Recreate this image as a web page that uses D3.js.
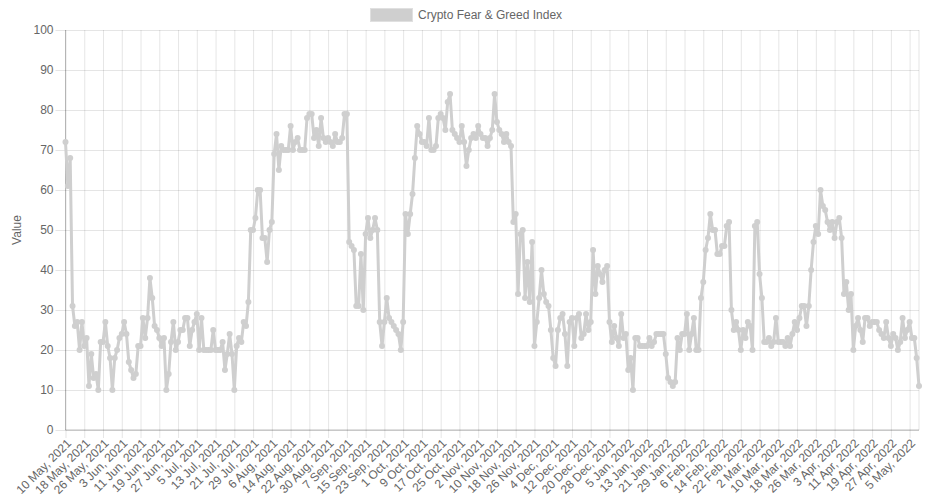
<!DOCTYPE html>
<meta charset="utf-8">

<!-- Load d3.js -->
<script src="https://d3js.org/d3.v7.min.js"></script>

<style>
    body { margin: 0; background: #fff; }
    text { font-family: Arial, "Liberation Sans", Helvetica, sans-serif; }
</style>

<!-- Create a div where the graph will take place -->
<div id="my_dataviz"></div>

<script>

    // ---------------------------//
    //       DATA                 //
    // ---------------------------//

    var seriesName = "Crypto Fear & Greed Index";
    var yTitle = "Value";

    // one label every 8 days (daily data from 10 May 2021)
    var tickLabels = ["10 May, 2021", "18 May, 2021", "26 May, 2021", "3 Jun, 2021", "11 Jun, 2021",
        "19 Jun, 2021", "27 Jun, 2021", "5 Jul, 2021", "13 Jul, 2021", "21 Jul, 2021", "29 Jul, 2021",
        "6 Aug, 2021", "14 Aug, 2021", "22 Aug, 2021", "30 Aug, 2021", "7 Sep, 2021", "15 Sep, 2021",
        "23 Sep, 2021", "1 Oct, 2021", "9 Oct, 2021", "17 Oct, 2021", "25 Oct, 2021", "2 Nov, 2021",
        "10 Nov, 2021", "18 Nov, 2021", "26 Nov, 2021", "4 Dec, 2021", "12 Dec, 2021", "20 Dec, 2021",
        "28 Dec, 2021", "5 Jan, 2022", "13 Jan, 2022", "21 Jan, 2022", "29 Jan, 2022", "6 Feb, 2022",
        "14 Feb, 2022", "22 Feb, 2022", "2 Mar, 2022", "10 Mar, 2022", "18 Mar, 2022", "26 Mar, 2022",
        "3 Apr, 2022", "11 Apr, 2022", "19 Apr, 2022", "27 Apr, 2022", "5 May, 2022"];

    var yTicks = [0, 10, 20, 30, 40, 50, 60, 70, 80, 90, 100];

    // daily index values, 10 May 2021 -> 9 May 2022
    var fearGreed = [
        72, 61, 68, 31, 26, 27, 20, 27, 21, 23, 11, 19, 13, 14, 10, 22, 22, 27, 21, 18,
        10, 18, 20, 23, 24, 27, 24, 17, 15, 13, 14, 21, 21, 28, 23, 28, 38, 33, 26, 25,
        23, 21, 23, 10, 14, 22, 27, 20, 22, 25, 25, 28, 28, 21, 25, 27, 29, 20, 28, 20,
        20, 20, 20, 25, 20, 20, 20, 22, 15, 19, 24, 19, 10, 21, 23, 22, 27, 26, 32, 50,
        50, 53, 60, 60, 48, 48, 42, 50, 52, 69, 74, 65, 71, 70, 70, 70,
        76, 70, 72, 73, 70, 70, 70, 78, 79, 79, 73, 75, 71, 78, 73, 72, 73, 72, 71, 74,
        72, 72, 73, 79, 79,
        47, 46, 45, 31, 31, 44, 30, 49, 53, 48, 50, 53, 50, 27, 21, 27, 33, 28, 27, 26,
        25, 24, 20, 27, 54, 49, 54, 59, 68, 76, 74, 72, 72, 71, 78, 70, 70, 71, 78,
        79, 78, 75, 82, 84,
        75, 74, 73, 72, 76, 72, 66,
        70, 73, 74, 73, 76, 74, 73, 73, 71, 73, 75, 84,
        77, 75, 74, 72, 74, 72, 71,
        52, 54, 34, 49, 50, 33, 42, 32, 47, 21, 27, 33, 40, 34, 32, 31, 25, 18, 16,
        25, 28, 29, 24, 16, 27, 28, 21, 28,
        29, 23, 24, 29, 25, 27, 45,
        34, 41, 39, 37, 40, 41, 27, 22, 26, 23, 21, 29, 23, 24, 15, 18, 10,
        23, 23, 21, 21, 21, 21, 23, 21, 22, 24, 24, 24, 24, 19, 13, 12, 11, 12, 23, 20,
        24, 24, 29, 20, 24, 28, 20, 20, 33, 37, 45, 48, 54,
        50, 50, 44, 44, 46, 46, 51, 52,
        30, 25, 27, 25, 20, 25, 23, 27, 26, 20, 51, 52,
        39, 33, 22, 22, 23, 21, 22, 28, 22, 22, 22, 21, 23, 21, 24, 27, 25, 28, 31, 31,
        26, 31, 40, 47, 51, 49, 60,
        56, 55, 52, 50, 52, 48, 52, 53, 48, 34, 37, 30, 34, 20,
        26, 28, 25, 22, 28, 28, 26, 27, 27, 27, 25, 24, 23, 27, 23, 21, 24, 23, 20, 22,
        28, 23, 25, 27, 23, 23, 18, 11
    ];

    var lineColor = "#cfcfcf";

    // set the dimensions and margins of the graph
    var margin = { top: 30, right: 14, bottom: 74, left: 65.5 },
        width = 933 - margin.left - margin.right,
        height = 504 - margin.top - margin.bottom;

    var root = d3.select("#my_dataviz")
        .append("svg")
        .attr("width", 933)
        .attr("height", 504);

    var svg = root.append("g")
        .attr("transform", "translate(" + margin.left + "," + margin.top + ")");

    // ---------------------------//
    //       AXIS  AND SCALE      //
    // ---------------------------//

    var x = d3.scaleLinear()
        .domain([0, fearGreed.length - 1])
        .range([0, width]);

    var y = d3.scaleLinear()
        .domain([0, 100])
        .range([height, 0]);

    var xTickValues = d3.range(0, fearGreed.length, 8);

    // horizontal grid
    svg.append("g")
        .attr("class", "ygrid")
        .call(d3.axisLeft(y).tickValues(yTicks).tickSize(-width).tickFormat(""))
        .call(function (g) { g.select(".domain").remove(); })
        .selectAll("line")
        .attr("stroke", "rgba(0,0,0,0.1)");

    // vertical grid
    svg.append("g")
        .attr("class", "xgrid")
        .call(d3.axisTop(x).tickValues(xTickValues).tickSize(-height).tickFormat(""))
        .call(function (g) { g.select(".domain").remove(); })
        .selectAll("line")
        .attr("stroke", "rgba(0,0,0,0.1)");

    // right border line
    svg.append("line")
        .attr("x1", width).attr("x2", width)
        .attr("y1", 0).attr("y2", height)
        .attr("stroke", "rgba(0,0,0,0.1)");

    // Y axis with labels
    var yAxis = svg.append("g")
        .call(d3.axisLeft(y).tickValues(yTicks).tickSize(10).tickPadding(2));
    yAxis.select(".domain").remove();
    yAxis.selectAll("line").attr("stroke", "rgba(0,0,0,0.1)");
    yAxis.selectAll("text")
        .style("font-size", "12px")
        .attr("fill", "#666");

    // X axis with rotated labels
    var xAxis = svg.append("g")
        .attr("transform", "translate(0," + height + ")")
        .style("opacity", 0.999)
        .call(d3.axisBottom(x)
            .tickValues(xTickValues)
            .tickSize(8)
            .tickFormat(function (d, i) { return tickLabels[i]; }));
    xAxis.select(".domain").remove();
    xAxis.selectAll("line").attr("stroke", "rgba(0,0,0,0.1)");
    xAxis.selectAll("text")
        .attr("x", 0)
        .attr("y", 0)
        .attr("dy", "0.35em")
        .attr("transform", "translate(3,11) rotate(-45)")
        .style("text-anchor", "end")
        .style("font-size", "12px")
        .attr("fill", "#666");

    // axis border lines
    svg.append("line")
        .attr("x1", 0).attr("x2", width)
        .attr("y1", height).attr("y2", height)
        .attr("stroke", "rgba(0,0,0,0.25)");
    svg.append("line")
        .attr("x1", 0).attr("x2", 0)
        .attr("y1", 0).attr("y2", height)
        .attr("stroke", "rgba(0,0,0,0.25)");

    // Y axis title
    root.append("text")
        .attr("transform", "translate(21," + (margin.top + height / 2) + ") rotate(-90)")
        .attr("text-anchor", "middle")
        .style("font-size", "12px")
        .attr("fill", "#666")
        .text(yTitle);

    // ---------------------------//
    //       LINE AND POINTS      //
    // ---------------------------//

    var line = d3.line()
        .x(function (d, i) { return x(i); })
        .y(function (d) { return y(d); });

    svg.append("path")
        .datum(fearGreed)
        .attr("fill", "none")
        .attr("stroke", lineColor)
        .attr("stroke-width", 3)
        .attr("stroke-linejoin", "round")
        .attr("d", line);

    svg.append("g")
        .selectAll("circle")
        .data(fearGreed)
        .enter()
        .append("circle")
        .attr("cx", function (d, i) { return x(i); })
        .attr("cy", function (d) { return y(d); })
        .attr("r", 3)
        .style("fill", lineColor);

    // ---------------------------//
    //       LEGEND               //
    // ---------------------------//

    var legend = root.append("g");
    legend.append("rect")
        .attr("x", 370.5)
        .attr("y", 8.5)
        .attr("width", 42)
        .attr("height", 13)
        .style("fill", lineColor)
        .style("stroke", "#e0e0e0");
    legend.append("text")
        .attr("x", 418)
        .attr("y", 15)
        .attr("dy", "0.35em")
        .style("font-size", "12px")
        .attr("fill", "#666")
        .text(seriesName);
</script>
